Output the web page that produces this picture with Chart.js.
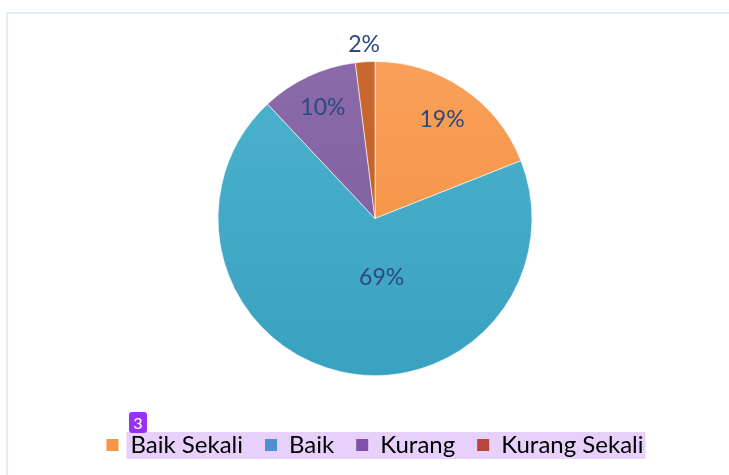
<!DOCTYPE html>
<html>
<head>
<meta charset="utf-8">
<script src="https://cdn.jsdelivr.net/npm/chart.js@4.4.1/dist/chart.umd.min.js"></script>
<style>
  html, body { margin: 0; padding: 0; background: #fff; }
  #wrap { position: relative; width: 729px; height: 475px; overflow: hidden; }
  #frame { position: absolute; left: 6px; top: 12px; width: 800px; height: 600px;
           border-left: 2px solid #e2ebf6; border-top: 2px solid #e2ebf6; }
  #badge { position: absolute; left: 129px; top: 412px; width: 18px; height: 21px;
           background: #9b30f5; border-radius: 3px; color: #fff;
           font: 16px Lato, sans-serif; text-align: center; line-height: 21px; }
  canvas { position: absolute; left: 0; top: 0; }
</style>
</head>
<body>
<div id="wrap">
  <div id="frame"></div>
  <canvas id="pie" width="729" height="475"></canvas>
  <div id="badge">3</div>
</div>
<script>
// -----------------------------
// DATA
// -----------------------------
const categories = ['Baik Sekali', 'Baik', 'Kurang', 'Kurang Sekali'];
const values = [19, 69, 10, 2];
const percentLabels = ['19%', '69%', '10%', '2%'];

// slice colours (top / bottom of gradient) and legend swatch colours
const sliceTop = ['#fba25e', '#4fb4cf', '#8c6cab', '#c86a34'];
const sliceBottom = ['#f08b36', '#37a0be', '#785899', '#bd5a12'];
const legendColors = ['#f79646', '#4f8fd0', '#8050aa', '#b9463c'];

// label placement: fraction of radius and angle nudge (degrees)
const labelFrac = [0.76, 0.38, 0.78, 1.11];
const labelNudge = [0, -19, 0, 0];

// -----------------------------
// PLUGINS
// -----------------------------
const legendHighlight = {
  id: 'legendHighlight',
  beforeDraw(chart) {
    const legend = chart.legend;
    if (!legend || !legend.legendHitBoxes.length) return;
    const boxes = legend.legendHitBoxes;
    const first = boxes[0];
    const last = boxes[boxes.length - 1];
    const x0 = first.left + 12 + 8;
    const x1 = last.left + last.width + 2;
    const cy = first.top + first.height / 2;
    const ctx = chart.ctx;
    ctx.save();
    ctx.fillStyle = '#e7d1fb';
    ctx.fillRect(x0, cy - 13, x1 - x0, 27);
    ctx.restore();
  }
};

const pieLabels = {
  id: 'pieLabels',
  afterDatasetsDraw(chart) {
    const ctx = chart.ctx;
    const meta = chart.getDatasetMeta(0);
    ctx.save();
    ctx.font = '23px Lato, sans-serif';
    ctx.fillStyle = '#2c4a7c';
    ctx.textAlign = 'center';
    ctx.textBaseline = 'middle';
    meta.data.forEach((arc, i) => {
      const p = arc.getProps(['x', 'y', 'startAngle', 'endAngle', 'outerRadius'], true);
      const a = (p.startAngle + p.endAngle) / 2 + labelNudge[i] * Math.PI / 180;
      const r = p.outerRadius * labelFrac[i];
      ctx.fillText(percentLabels[i], p.x + Math.cos(a) * r, p.y + Math.sin(a) * r);
    });
    ctx.restore();
  }
};

// -----------------------------
// CHART
// -----------------------------
const ctx = document.getElementById('pie').getContext('2d');

function sliceGradient(context) {
  const chart = context.chart;
  const area = chart.chartArea;
  if (!area) return sliceTop[context.dataIndex];
  const g = chart.ctx.createLinearGradient(0, area.top, 0, area.bottom);
  g.addColorStop(0, sliceTop[context.dataIndex]);
  g.addColorStop(1, sliceBottom[context.dataIndex]);
  return g;
}

new Chart(ctx, {
  type: 'pie',
  data: {
    labels: categories,
    datasets: [{
      data: values,
      radius: 157,
      backgroundColor: sliceGradient,
      borderColor: 'rgba(255,255,255,0.6)',
      borderWidth: 1
    }]
  },
  options: {
    responsive: false,
    animation: false,
    layout: { padding: { top: 26, left: 21, right: 0, bottom: 8 } },
    plugins: {
      tooltip: { enabled: false },
      legend: {
        position: 'bottom',
        labels: {
          boxWidth: 12,
          boxHeight: 12,
          padding: 22,
          color: '#3a4896',
          font: { family: 'Lato, sans-serif', size: 24 },
          generateLabels: () => categories.map((c, i) => ({
            text: c,
            fillStyle: legendColors[i],
            strokeStyle: legendColors[i],
            lineWidth: 0,
            index: i
          }))
        }
      }
    }
  },
  plugins: [legendHighlight, pieLabels]
});
</script>
</body>
</html>
